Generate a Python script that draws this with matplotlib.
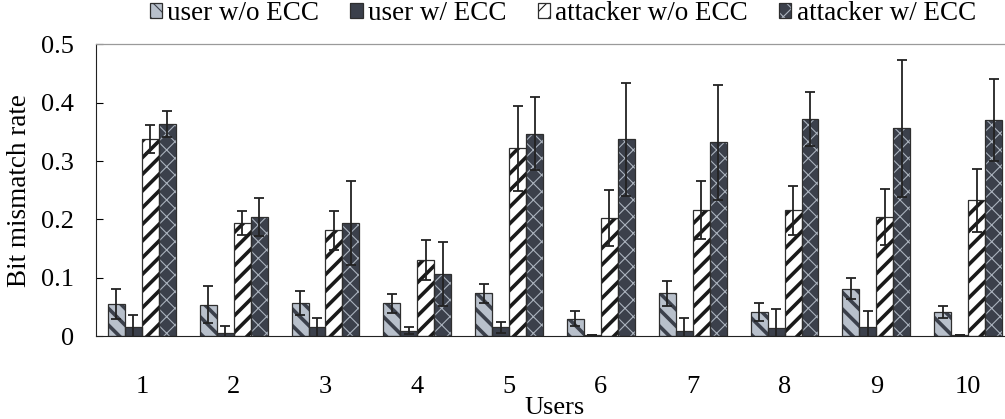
import numpy as np
import matplotlib
matplotlib.use("Agg")
import matplotlib.pyplot as plt

plt.rcParams["font.family"] = ["Liberation Serif", "DejaVu Serif"]

users = ["1", "2", "3", "4", "5", "6", "7", "8", "9", "10"]
series = ["user w/o ECC", "user w/ ECC", "attacker w/o ECC", "attacker w/ ECC"]

user_noecc = [0.055, 0.054, 0.057, 0.056, 0.073, 0.030, 0.073, 0.041, 0.081, 0.041]
user_noecc_err = [0.025, 0.032, 0.021, 0.016, 0.017, 0.013, 0.021, 0.015, 0.018, 0.010]
user_ecc = [0.016, 0.006, 0.015, 0.009, 0.015, 0.001, 0.009, 0.013, 0.015, 0.001]
user_ecc_err = [0.020, 0.011, 0.016, 0.006, 0.009, 0.0, 0.022, 0.034, 0.028, 0.0]
att_noecc = [0.338, 0.194, 0.181, 0.130, 0.322, 0.202, 0.216, 0.216, 0.204, 0.233]
att_noecc_err = [0.024, 0.021, 0.034, 0.034, 0.073, 0.048, 0.049, 0.042, 0.048, 0.054]
att_ecc = [0.364, 0.204, 0.194, 0.107, 0.347, 0.337, 0.332, 0.372, 0.356, 0.370]
att_ecc_err = [0.022, 0.032, 0.072, 0.055, 0.063, 0.097, 0.099, 0.047, 0.118, 0.070]

dark = "#3b404b"
light = "#b8c0cb"
edge = "#2e2e2e"

styles = [
    # face, hatch, hatch colour, hatch width
    (light, "\\\\", dark, 2.6),
    (dark, "", dark, 1.0),
    ("white", "//", "#1a1a1a", 2.6),
    (dark, "xx", "#aab2bd", 0.8),
]

vals = [user_noecc, user_ecc, att_noecc, att_ecc]
errs = [user_noecc_err, user_ecc_err, att_noecc_err, att_ecc_err]

fig = plt.figure(figsize=(10.05, 4.19), dpi=100)
ax = fig.add_axes([0.0955, 0.198, 0.9135, 0.696])

x = np.arange(1, len(users) + 1)
w = 0.185
handles = []
for i in range(4):
    face, hatch, hcol, hlw = styles[i]
    pos = x + (i - 1.5) * w
    plt.rcParams["hatch.linewidth"] = hlw
    b = ax.bar(pos, vals[i], w, color=face, edgecolor=hcol, linewidth=0,
               hatch=hatch, zorder=2)
    for p in b.patches:
        if hasattr(p, "set_hatch_linewidth"):
            p.set_hatch_linewidth(hlw)
    e = ax.bar(pos, vals[i], w, fill=False, edgecolor=edge, linewidth=0.9, zorder=3)
    ax.errorbar(pos, vals[i], yerr=errs[i], fmt="none", ecolor="#222222",
                elinewidth=1.3, capsize=3.5, capthick=1.3, zorder=4)
    handles.append((b.patches[0], e.patches[0]))

ax.set_xlim(0.5, 10.5)
ax.set_ylim(0, 0.5)
ax.set_xticks(x)
ax.set_xticklabels(users)
ax.set_yticks([0, 0.1, 0.2, 0.3, 0.4, 0.5])
ax.set_yticklabels(["0", "0.1", "0.2", "0.3", "0.4", "0.5"])
ax.tick_params(axis="y", direction="in", length=5, labelsize=19, pad=16)
ax.tick_params(axis="x", length=0, labelsize=19, pad=29)
ax.spines["right"].set_visible(False)
ax.spines["top"].set_color("#9a9a9a")
ax.spines["top"].set_linewidth(0.9)
ax.spines["left"].set_color("#222222")
ax.spines["bottom"].set_color("#222222")
ax.set_ylabel("Bit mismatch rate", fontsize=19.5, labelpad=6)
ax.set_xlabel("Users", fontsize=19, labelpad=-1)

fig.legend(handles, series, loc="upper center", bbox_to_anchor=(0.56, 1.055),
           ncol=4, frameon=False, fontsize=19.5, handlelength=0.45,
           handleheight=0.45, handletextpad=0.2, columnspacing=1.15)

fig.savefig("out.png", dpi=100)
